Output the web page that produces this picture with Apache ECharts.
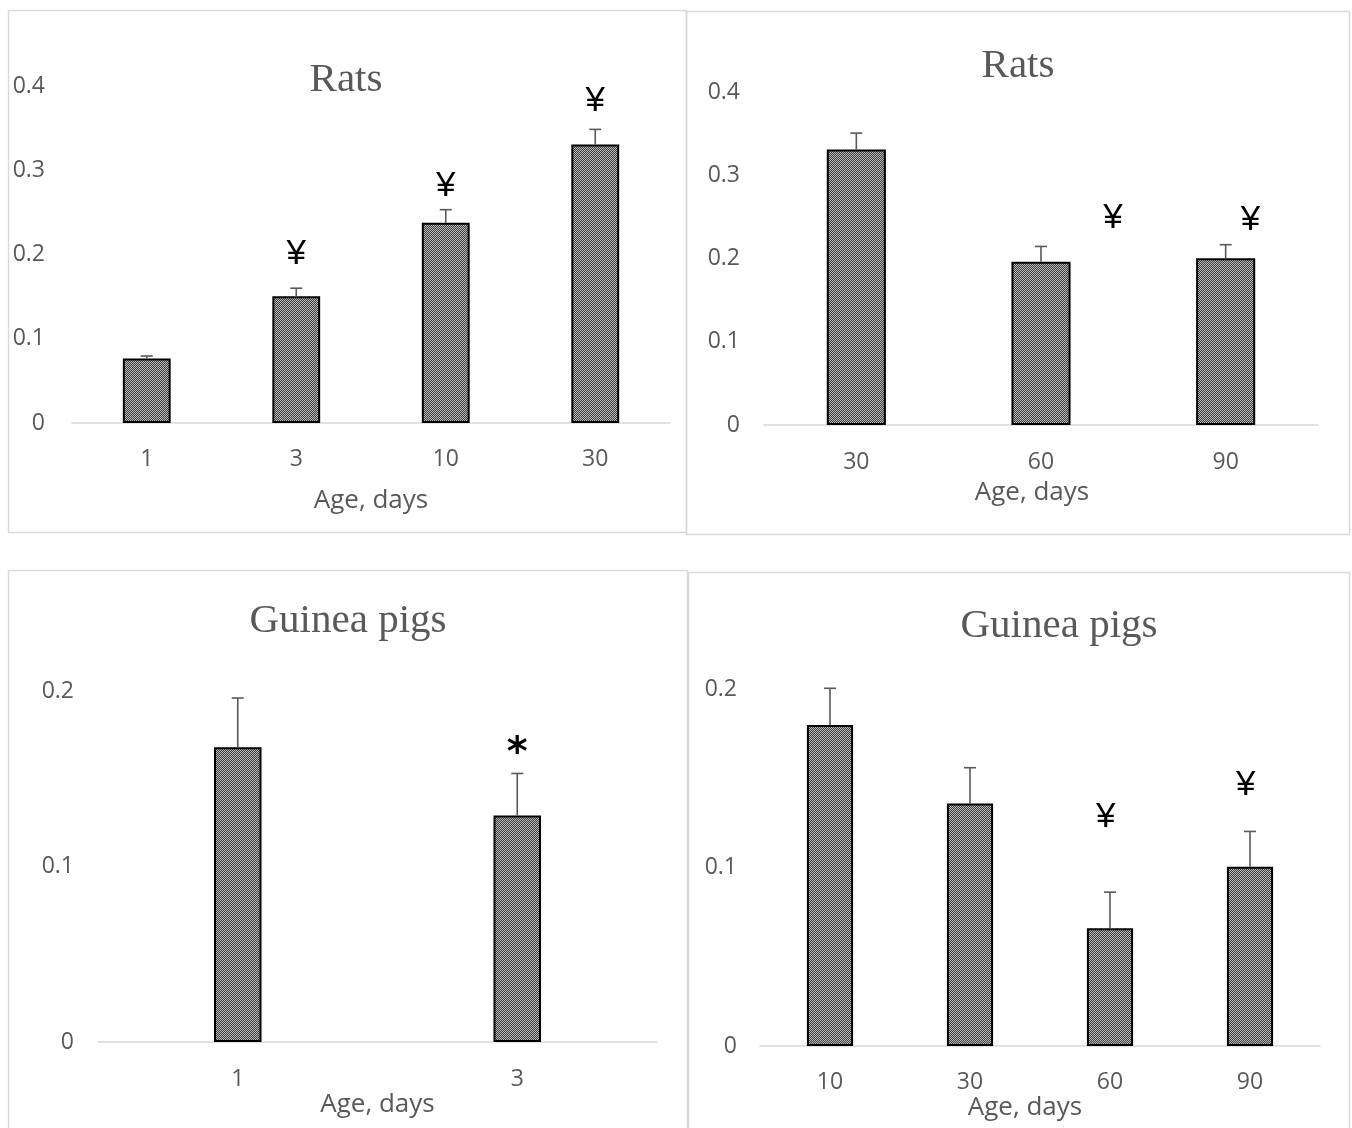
<!DOCTYPE html>
<html>
<head>
<meta charset="utf-8">
<script src="https://cdn.jsdelivr.net/npm/echarts@6/dist/echarts.min.js"></script>
<style>
html,body{margin:0;padding:0;background:#fff;}
#chart{width:1352px;height:1128px;}
</style>
</head>
<body>
<div id="chart"></div>
<script>
// ---- Data ----
const titles = ['Rats', 'Rats', 'Guinea pigs', 'Guinea pigs'];
const xName = 'Age, days';

const p1Cats = ['1', '3', '10', '30'];
const p1Vals = [0.0765, 0.1505, 0.2376, 0.3305];
const p1Err  = [0.003, 0.0095, 0.0156, 0.018];
const p1Marks = [ // [categoryIndex, value, offset within band, symbol]
  [1, 0.2006, 0, '¥'], [2, 0.2808, 0, '¥'], [3, 0.3815, 0, '¥']
];

const p2Cats = ['30', '60', '90'];
const p2Vals = [0.331, 0.196, 0.2004];
const p2Err  = [0.0196, 0.0185, 0.0162];
const p2Marks = [
  [1, 0.248, 0.39, '¥'], [2, 0.246, 0.135, '¥']
];

const p3Cats = ['1', '3'];
const p3Vals = [0.168, 0.129];
const p3Err  = [0.028, 0.024];
const p3Marks = [
  [1, 0.168, 0, '*']
];

const p4Cats = ['10', '30', '60', '90'];
const p4Vals = [0.1798, 0.1358, 0.066, 0.1004];
const p4Err  = [0.0206, 0.0201, 0.0202, 0.0198];
const p4Marks = [
  [2, 0.128, -0.03, '¥'], [3, 0.146, -0.03, '¥']
];

const yMax = [0.4, 0.4, 0.2, 0.2];

// ---- Styling / layout ----
const TXT = '#595959';
const AXIS = '#d9d9d9';
function makePattern() {
  const c = document.createElement('canvas');
  c.width = 2; c.height = 2;
  const g = c.getContext('2d');
  g.fillStyle = '#404040'; g.fillRect(0, 0, 2, 2);
  g.fillStyle = '#b8b8b8'; g.fillRect(0, 0, 1, 1); g.fillRect(1, 1, 1, 1);
  return c;
}
const pattern = { image: makePattern(), repeat: 'repeat' };

const grids = [
  { left: 72, right: 682, top: 86, bottom: 705 },
  { left: 764, right: 34, top: 92, bottom: 703 },
  { left: 98, right: 695, top: 691, bottom: 86 },
  { left: 760, right: 32, top: 689, bottom: 82 }
];
const titlePos = [[341, 55], [1013, 41], [343, 596], [1054, 601]];
const labelMargins = [25, 26, 26, 25];
const nameGaps = [65, 55, 44, 46];
const namePad = [[0,0,0,0],[0,18,0,0],[0,0,0,0],[0,30,0,0]];
const yLabelMargins = [27, 24, 24, 23];
const barWidths = ['32%', '32%', '17%', '33%'];

const panels = [
  { cats: p1Cats, vals: p1Vals, err: p1Err, marks: p1Marks },
  { cats: p2Cats, vals: p2Vals, err: p2Err, marks: p2Marks },
  { cats: p3Cats, vals: p3Vals, err: p3Err, marks: p3Marks },
  { cats: p4Cats, vals: p4Vals, err: p4Err, marks: p4Marks }
];

const option = {
  animation: false,
  backgroundColor: '#fff',
  graphic: [
    { type: 'rect', shape: { x: 8.5, y: 10.5, width: 678, height: 522 }, style: { fill: 'none', stroke: AXIS, lineWidth: 1.5 }, z: -10 },
    { type: 'rect', shape: { x: 686.5, y: 11.5, width: 663, height: 523 }, style: { fill: 'none', stroke: AXIS, lineWidth: 1.5 }, z: -10 },
    { type: 'rect', shape: { x: 8.5, y: 570.5, width: 679, height: 580 }, style: { fill: 'none', stroke: AXIS, lineWidth: 1.5 }, z: -10 },
    { type: 'rect', shape: { x: 688.5, y: 572.5, width: 661, height: 580 }, style: { fill: 'none', stroke: AXIS, lineWidth: 1.5 }, z: -10 }
  ],
  title: titles.map((t, i) => ({
    text: t, left: titlePos[i][0], top: titlePos[i][1], textAlign: 'center',
    textStyle: { fontFamily: 'Liberation Serif', fontSize: 41, fontWeight: 'normal', color: TXT }
  })),
  grid: grids,
  xAxis: panels.map((p, i) => ({
    type: 'category', gridIndex: i, data: p.cats,
    name: xName, nameLocation: 'middle', nameGap: nameGaps[i],
    nameTextStyle: { fontFamily: 'Open Sans', fontSize: 26, color: TXT, padding: namePad[i] },
    axisTick: { show: false },
    axisLine: { lineStyle: { color: AXIS, width: 1.5 } },
    axisLabel: { fontFamily: 'Open Sans', fontSize: 23, color: TXT, margin: labelMargins[i] }
  })),
  yAxis: panels.map((p, i) => ({
    type: 'value', gridIndex: i, min: 0, max: yMax[i], interval: 0.1,
    axisLine: { show: false }, axisTick: { show: false }, splitLine: { show: false },
    axisLabel: { fontFamily: 'Open Sans', fontSize: 23, color: TXT, margin: yLabelMargins[i],
      formatter: v => (Math.round(v * 10) / 10).toString() }
  })),
  series: []
};

panels.forEach((p, i) => {
  option.series.push({
    type: 'bar', xAxisIndex: i, yAxisIndex: i, data: p.vals, barWidth: barWidths[i],
    itemStyle: { color: pattern, borderColor: '#000', borderWidth: 2 }, z: 2
  });
  option.series.push({
    type: 'custom', xAxisIndex: i, yAxisIndex: i, z: 3,
    data: p.vals.map((v, k) => [k, v, v + p.err[k]]),
    renderItem: function (params, api) {
      const b = api.coord([api.value(0), api.value(1)]);
      const t = api.coord([api.value(0), api.value(2)]);
      const hw = 6;
      return {
        type: 'group',
        children: [
          { type: 'line', shape: { x1: b[0], y1: b[1], x2: t[0], y2: t[1] }, style: { stroke: TXT, lineWidth: 1.6 } },
          { type: 'line', shape: { x1: t[0] - hw, y1: t[1], x2: t[0] + hw, y2: t[1] }, style: { stroke: TXT, lineWidth: 1.6 } }
        ]
      };
    }
  });
  option.series.push({
    type: 'custom', xAxisIndex: i, yAxisIndex: i, z: 4,
    data: p.marks.map(m => [m[0], m[1], m[2]]),
    renderItem: function (params, api) {
      const m = p.marks[params.dataIndex];
      const c = api.coord([api.value(0), api.value(1)]);
      const band = api.size([1, 0])[0];
      const isStar = m[3] === '*';
      return {
        type: 'text',
        x: c[0] + api.value(2) * band,
        y: c[1] + (isStar ? 7 : 0),
        style: {
          text: m[3], textAlign: 'center', textVerticalAlign: 'middle',
          fontFamily: isStar ? 'DejaVu Sans' : 'Liberation Sans',
          fontWeight: isStar ? 'bold' : 'normal',
          fontSize: isStar ? 40 : 35, fill: '#000'
        }
      };
    }
  });
});

const chart = echarts.init(document.getElementById('chart'), null, { renderer: 'canvas' });
chart.setOption(option);
</script>
</body>
</html>
